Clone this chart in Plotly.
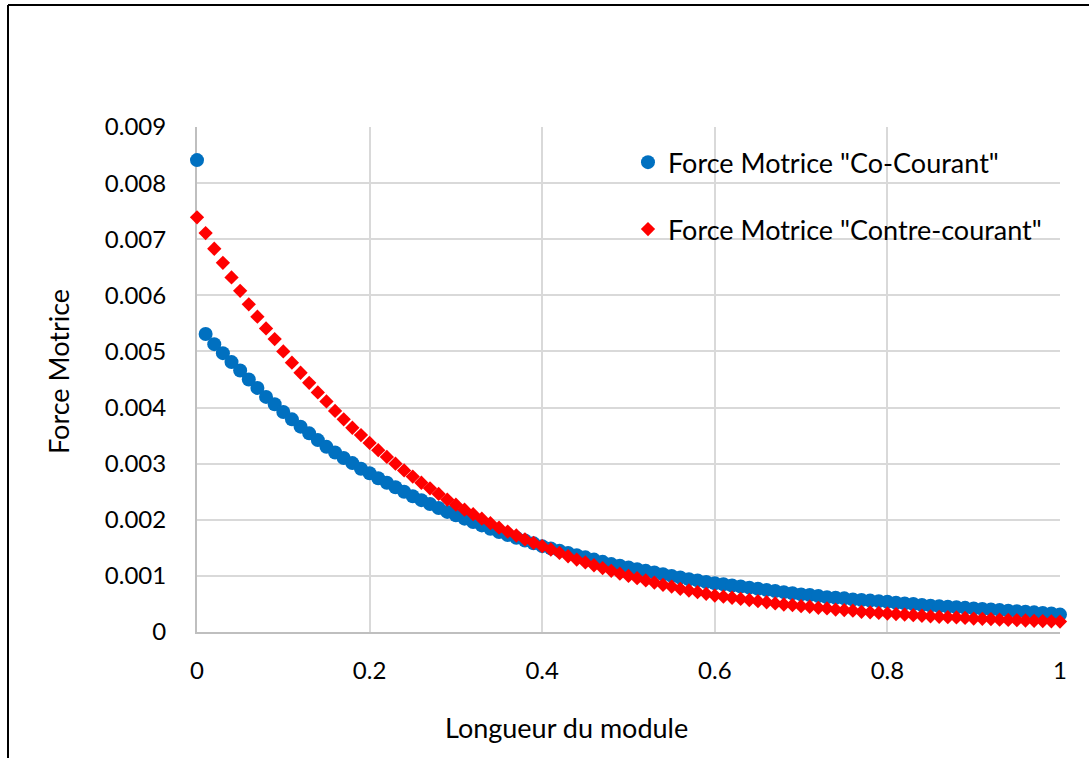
import plotly.graph_objects as go

x_vals = [round(i * 0.01, 2) for i in range(101)]

co_courant = [
    8.41, 5.31, 5.13, 4.97, 4.81, 4.66, 4.50, 4.35, 4.19, 4.06,
    3.92, 3.79, 3.66, 3.54, 3.42, 3.30, 3.20, 3.10, 3.01, 2.91,
    2.83, 2.74, 2.66, 2.58, 2.50, 2.42, 2.35, 2.28, 2.21, 2.14,
    2.08, 2.02, 1.96, 1.90, 1.84, 1.78, 1.73, 1.68, 1.63, 1.58,
    1.53, 1.49, 1.45, 1.41, 1.37, 1.33, 1.29, 1.25, 1.21, 1.18,
    1.15, 1.12, 1.09, 1.06, 1.03, 1.00, 0.97, 0.94, 0.92, 0.89,
    0.87, 0.85, 0.83, 0.81, 0.79, 0.77, 0.75, 0.73, 0.71, 0.69,
    0.67, 0.66, 0.64, 0.62, 0.61, 0.60, 0.58, 0.57, 0.56, 0.55,
    0.54, 0.52, 0.51, 0.50, 0.48, 0.47, 0.46, 0.45, 0.44, 0.43,
    0.42, 0.41, 0.40, 0.39, 0.38, 0.37, 0.36, 0.35, 0.34, 0.33,
    0.31,
]

contre_courant = [
    7.39, 7.11, 6.83, 6.58, 6.32, 6.08, 5.84, 5.62, 5.41, 5.22,
    5.00, 4.80, 4.62, 4.44, 4.27, 4.11, 3.94, 3.79, 3.64, 3.51,
    3.37, 3.24, 3.12, 3.00, 2.88, 2.77, 2.66, 2.56, 2.46, 2.36,
    2.27, 2.18, 2.10, 2.02, 1.94, 1.86, 1.79, 1.72, 1.65, 1.59,
    1.53, 1.47, 1.41, 1.35, 1.29, 1.24, 1.19, 1.14, 1.09, 1.04,
    1.00, 0.96, 0.92, 0.88, 0.84, 0.81, 0.77, 0.74, 0.71, 0.68,
    0.65, 0.63, 0.61, 0.59, 0.57, 0.55, 0.53, 0.51, 0.49, 0.48,
    0.46, 0.45, 0.43, 0.42, 0.40, 0.39, 0.38, 0.36, 0.35, 0.34,
    0.33, 0.32, 0.31, 0.30, 0.29, 0.28, 0.27, 0.265, 0.26, 0.25,
    0.24, 0.235, 0.23, 0.22, 0.215, 0.21, 0.205, 0.20, 0.195, 0.19,
    0.185,
]

y_scale = 0.001
co_y = [v * y_scale for v in co_courant]
contre_y = [v * y_scale for v in contre_courant]

y_tickvals = [0, 0.001, 0.002, 0.003, 0.004, 0.005, 0.006, 0.007, 0.008, 0.009]
y_ticktext = ["0", "0.001", "0.002", "0.003", "0.004", "0.005", "0.006", "0.007", "0.008", "0.009"]
x_tickvals = [0, 0.2, 0.4, 0.6, 0.8, 1]
x_ticktext = ["0", "0.2", "0.4", "0.6", "0.8", "1"]

FONT = "Lato"
TXT = 27

fig = go.Figure()
fig.add_trace(go.Scatter(
    x=x_vals, y=co_y, mode="markers", name='Force Motrice "Co-Courant"',
    marker=dict(symbol="circle", size=14, color="#0070C0"),
    cliponaxis=False, legend="legend", showlegend=True,
))
fig.add_trace(go.Scatter(
    x=x_vals, y=contre_y, mode="markers", name='Force Motrice "Contre-courant"',
    marker=dict(symbol="diamond", size=11, color="#FF0000"),
    cliponaxis=False, legend="legend2", showlegend=True,
))

fig.update_layout(
    width=1089, height=758,
    margin=dict(l=197, r=29, t=127, b=126),
    paper_bgcolor="white", plot_bgcolor="white",
    showlegend=True,
    font=dict(family=FONT, size=24, color="#000000"),
    legend=dict(x=0.4994, y=0.978, xanchor="left", yanchor="top",
                bgcolor="rgba(0,0,0,0)", font=dict(family=FONT, size=TXT),
                itemwidth=30, visible=True),
    legend2=dict(x=0.4994, y=0.8455, xanchor="left", yanchor="top",
                 bgcolor="rgba(0,0,0,0)", font=dict(family=FONT, size=TXT),
                 itemwidth=30, visible=True),
    xaxis=dict(
        range=[0, 1], tickvals=x_tickvals, ticktext=x_ticktext,
        showgrid=True, gridcolor="#d9d9d9", gridwidth=1.5,
        showline=True, linecolor="#bfbfbf", linewidth=2,
        zeroline=False, ticks="", ticklabelstandoff=16,
        tickfont=dict(family=FONT, size=24), layer="below traces",
    ),
    yaxis=dict(
        range=[0, 0.009], tickvals=y_tickvals, ticktext=y_ticktext,
        showgrid=True, gridcolor="#d9d9d9", gridwidth=1.5,
        showline=True, linecolor="#bfbfbf", linewidth=2,
        zeroline=False, ticks="", ticklabelstandoff=24,
        tickfont=dict(family=FONT, size=24), layer="below traces",
    ),
    annotations=[
        dict(text="Longueur du module", xref="paper", yref="paper",
             x=(566 - 197) / 863, y=(632 - 727) / 505, xanchor="center", yanchor="middle",
             showarrow=False, font=dict(family=FONT, size=TXT)),
        dict(text="Force Motrice", xref="paper", yref="paper", textangle=-90,
             x=(58 - 197) / 863, y=(632 - 372) / 505, xanchor="center", yanchor="middle",
             showarrow=False, font=dict(family=FONT, size=TXT)),
    ],
    shapes=[
        dict(type="line", xref="paper", yref="paper", x0=(8 - 197) / 863, x1=1.04,
             y0=(632 - 5) / 505, y1=(632 - 5) / 505, line=dict(color="black", width=2)),
        dict(type="line", xref="paper", yref="paper", x0=(8 - 197) / 863, x1=(8 - 197) / 863,
             y0=(632 - 5) / 505, y1=-0.3, line=dict(color="black", width=2)),
    ],
)

fig.write_html("out.html")
